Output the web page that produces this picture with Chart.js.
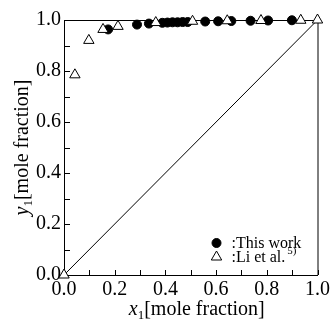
<!DOCTYPE html>
<html>
<head>
<meta charset="utf-8">
<script src="https://cdn.jsdelivr.net/npm/chart.js@4.4.0/dist/chart.umd.min.js"></script>
<style>
  html, body { margin: 0; padding: 0; background: #fff; }
</style>
</head>
<body>
<canvas id="vle" width="333" height="323"></canvas>
<script>
// this work (filled circles)
const thisWorkX = [0.174, 0.288, 0.335, 0.388, 0.408, 0.428, 0.448, 0.468, 0.488, 0.557, 0.608, 0.660, 0.736, 0.805, 0.899];
const thisWorkY = [0.963, 0.982, 0.986, 0.989, 0.990, 0.991, 0.991, 0.992, 0.992, 0.994, 0.995, 0.996, 0.997, 0.998, 0.999];
// Li et al. (open triangles)
const liX = [0.000, 0.043, 0.098, 0.154, 0.213, 0.362, 0.507, 0.644, 0.777, 0.934, 1.000];
const liY = [0.000, 0.785, 0.920, 0.963, 0.975, 0.990, 0.995, 0.997, 0.998, 0.999, 1.000];
// x = y diagonal
const diagX = [0, 1];
const diagY = [0, 1];
const tickValues = [0, 0.2, 0.4, 0.6, 0.8, 1.0];
const minorStep = 0.1;

const FONT = "'Liberation Serif', 'Times New Roman', serif";

const toPts = (xs, ys) => xs.map((x, i) => ({ x: x, y: ys[i] }));

function runsWidth(ctx, runs) {
  let w = 0;
  runs.forEach(r => { ctx.font = r.font; w += ctx.measureText(r.text).width; });
  return w;
}
function drawRuns(ctx, runs, x, y) {
  let cx = x;
  runs.forEach(r => {
    ctx.font = r.font;
    ctx.fillText(r.text, cx, y + (r.dy || 0));
    cx += ctx.measureText(r.text).width;
  });
}

const framePlugin = {
  id: 'frame',
  beforeDatasetsDraw(chart) {
    const ctx = chart.ctx;
    const a = chart.chartArea;
    const xs = chart.scales.x, ys = chart.scales.y;
    ctx.save();
    ctx.strokeStyle = '#000';
    ctx.lineWidth = 1;
    // top + right border
    ctx.beginPath();
    ctx.moveTo(a.left, a.top + 0.5);
    ctx.lineTo(a.right + 0.5, a.top + 0.5);
    ctx.lineTo(a.right + 0.5, a.bottom);
    ctx.stroke();
    // inward ticks
    ctx.beginPath();
    for (let v = minorStep; v < 1; v += minorStep) {
      const px = Math.round(xs.getPixelForValue(v)) + 0.5;
      ctx.moveTo(px, a.bottom);
      ctx.lineTo(px, a.bottom - 5);
      const py = Math.round(ys.getPixelForValue(v)) + 0.5;
      ctx.moveTo(a.left, py);
      ctx.lineTo(a.left + 6, py);
    }
    ctx.stroke();
    ctx.restore();
  },
  afterDraw(chart) {
    const ctx = chart.ctx;
    const a = chart.chartArea;
    ctx.save();
    ctx.fillStyle = '#000';
    ctx.textBaseline = 'alphabetic';
    // x title
    const xr = [
      { text: 'x', font: 'italic 20px ' + FONT },
      { text: '1', font: '13px ' + FONT, dy: 4 },
      { text: '[mole fraction]', font: '20px ' + FONT }
    ];
    const xw = runsWidth(ctx, xr);
    drawRuns(ctx, xr, (a.left + a.right) / 2 + 6 - xw / 2, 315);
    // y title
    const yr = [
      { text: 'y', font: 'italic 20px ' + FONT },
      { text: '1', font: '13px ' + FONT, dy: 4 },
      { text: '[mole fraction]', font: '20px ' + FONT }
    ];
    const yw = runsWidth(ctx, yr);
    ctx.save();
    ctx.translate(28, (a.top + a.bottom) / 2);
    ctx.rotate(-Math.PI / 2);
    drawRuns(ctx, yr, -yw / 2, 0);
    ctx.restore();
    // legend
    const lx = a.right - 101;
    const ds = chart.data.datasets;
    const rows = [
      { ds: ds[1], y: a.bottom - 32, label: ':This work' },
      { ds: ds[0], y: a.bottom - 18, label: ':Li et al.' }
    ];
    rows.forEach(r => {
      ctx.strokeStyle = r.ds.borderColor;
      ctx.fillStyle = r.ds.backgroundColor;
      ctx.lineWidth = r.ds.borderWidth;
      Chart.helpers.drawPoint(ctx, { pointStyle: r.ds.pointStyle, radius: r.ds.pointRadius, borderWidth: r.ds.borderWidth }, lx, r.y);
      ctx.fillStyle = '#000';
      ctx.font = '16px ' + FONT;
      ctx.fillText(r.label, lx + 15, r.y + 5);
      if (r.label === ':Li et al.') {
        const w = ctx.measureText(r.label).width;
        ctx.font = '11px ' + FONT;
        ctx.fillText('5)', lx + 17 + w, r.y - 3);
      }
    });
    ctx.restore();
  }
};

const axisCommon = {
  type: 'linear',
  min: 0,
  max: 1,
  grid: { display: false, drawTicks: false },
  border: { display: true, color: '#000', width: 1 },
  ticks: {
    stepSize: 0.2,
    color: '#000',
    font: { family: FONT, size: 20 },
    callback: v => tickValues.some(t => Math.abs(t - v) < 1e-9) ? v.toFixed(1) : ''
  }
};

new Chart(document.getElementById('vle'), {
  type: 'scatter',
  data: {
    datasets: [
      {
        label: 'Li et al.',
        data: toPts(liX, liY),
        pointStyle: 'triangle',
        pointRadius: 6,
        backgroundColor: '#fff',
        borderColor: '#000',
        borderWidth: 1
      },
      {
        label: 'This work',
        data: toPts(thisWorkX, thisWorkY),
        pointStyle: 'circle',
        pointRadius: 4.5,
        backgroundColor: '#000',
        borderColor: '#000',
        borderWidth: 1
      },
      {
        type: 'line',
        label: 'x=y',
        data: toPts(diagX, diagY),
        borderColor: '#000',
        borderWidth: 1,
        pointRadius: 0,
        fill: false
      }
    ]
  },
  options: {
    responsive: false,
    animation: false,
    devicePixelRatio: 1,
    clip: false,
    layout: { padding: { top: 20, right: 14, left: 0, bottom: 0 } },
    plugins: { legend: { display: false }, tooltip: { enabled: false } },
    scales: {
      x: Object.assign({}, axisCommon, {
        ticks: Object.assign({}, axisCommon.ticks, { padding: 3, maxRotation: 0 }),
        afterFit: s => { s.height = 48; }
      }),
      y: Object.assign({}, axisCommon, {
        ticks: Object.assign({}, axisCommon.ticks, { padding: 3 }),
        afterFit: s => { s.width = 64; }
      })
    }
  },
  plugins: [framePlugin]
});
</script>
</body>
</html>
